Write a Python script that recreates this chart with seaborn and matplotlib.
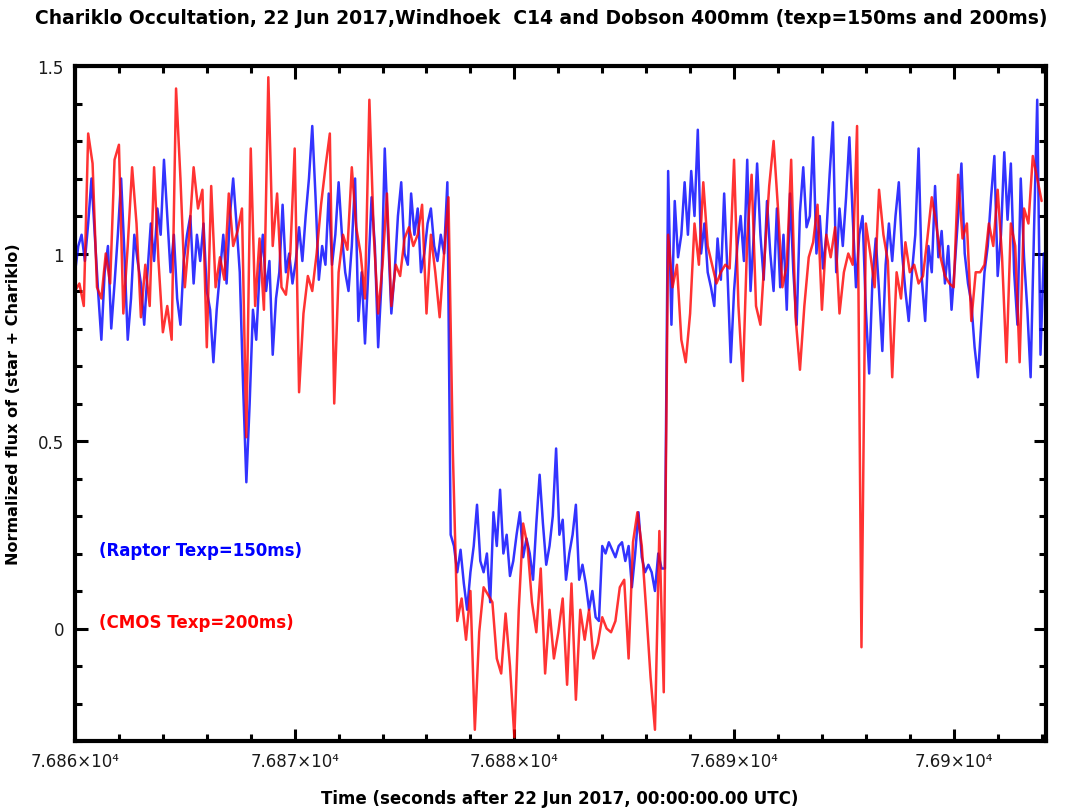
import numpy as np
import pandas as pd
import matplotlib
matplotlib.use("Agg")
import matplotlib.pyplot as plt
import seaborn as sns
from matplotlib.ticker import MultipleLocator

# ---------------- data ----------------
T0 = 76860.0
DT_RAPTOR = 0.15
DT_CMOS = 0.20

raptor_before = [
    0.95, 1.02, 1.05, 0.98, 1.08, 1.20, 1.05, 0.90, 0.77, 0.95,
    1.02, 0.80, 0.92, 1.05, 1.20, 1.00, 0.77, 0.88, 1.05, 0.98,
    0.92, 0.81, 0.95, 1.08, 0.98, 1.12, 1.05, 1.25, 1.10, 0.95,
    1.05, 0.88, 0.81, 0.98, 1.05, 1.10, 0.92, 1.05, 0.98, 1.08,
    0.90, 0.85, 0.71, 0.85, 0.95, 1.05, 0.92, 1.10, 1.20, 1.08,
    0.95, 0.65, 0.39, 0.60, 0.85, 0.77, 0.95, 1.05, 0.90, 0.98,
    0.73, 0.88, 0.95, 1.13, 0.95, 1.00, 0.92, 0.98, 1.07, 0.98,
    1.10, 1.20, 1.34, 1.15, 0.93, 1.02, 0.97, 1.16, 0.97, 1.05,
    1.19, 1.05, 0.95, 0.90, 1.02, 1.20, 0.82, 0.95, 0.76, 0.95,
    1.15, 1.02, 0.75, 0.92, 1.28, 1.05, 0.84, 0.95, 1.10, 1.19,
    1.00, 0.97, 1.16, 1.05, 1.12, 0.95, 1.00, 1.08, 1.12, 1.02,
    0.98, 1.05, 1.00, 1.19,
]
raptor_during = [
    0.25, 0.22, 0.15, 0.21, 0.12, 0.05, 0.15, 0.22, 0.33, 0.18,
    0.15, 0.20, 0.07, 0.31, 0.22, 0.37, 0.20, 0.25, 0.14, 0.18,
    0.25, 0.31, 0.19, 0.24, 0.20, 0.13, 0.28, 0.41, 0.28, 0.17,
    0.22, 0.30, 0.48, 0.25, 0.29, 0.13, 0.20, 0.25, 0.33, 0.13,
    0.17, 0.12, 0.05, 0.10, 0.03, 0.02, 0.22, 0.20, 0.23, 0.21,
    0.19, 0.22, 0.23, 0.18, 0.22, 0.11, 0.20, 0.31, 0.19, 0.15,
    0.17, 0.15, 0.10, 0.20, 0.16, 0.16,
]
raptor_after = [
    1.22, 0.81, 1.14, 0.99, 1.05, 1.19, 1.05, 1.22, 1.10, 1.33,
    1.00, 1.08, 0.95, 0.91, 0.86, 1.04, 0.93, 1.16, 0.95, 0.71,
    0.90, 1.02, 1.10, 0.98, 1.25, 0.90, 1.05, 1.24, 1.05, 0.93,
    1.14, 1.00, 0.90, 1.12, 0.91, 1.05, 0.85, 1.16, 0.95, 0.81,
    1.11, 1.23, 1.07, 1.10, 1.31, 1.00, 1.10, 0.96,
    1.05, 1.21, 1.35, 0.95, 1.12, 1.02, 1.15, 1.31, 1.10, 0.91,
    1.05, 1.10, 0.85, 0.68, 0.93, 1.04, 0.90, 0.74, 0.97, 1.08,
    0.98, 1.10, 1.19, 1.00, 0.90, 0.82, 0.95, 1.05, 1.28, 0.93,
    0.82, 1.02, 0.95, 1.18, 0.99, 1.06, 0.92, 1.02, 0.85, 0.97,
    1.10, 1.24, 1.00, 0.92, 0.87, 0.75, 0.67, 0.81, 0.95, 1.02,
    1.15, 1.26, 0.94, 1.05, 1.27, 1.09, 1.24, 0.95, 0.81, 1.20,
    0.99, 0.85, 0.67, 1.05, 1.41, 0.73, 1.00,
]

cmos_before = [
    0.90, 0.92, 0.86, 1.32, 1.24, 0.91, 0.88, 1.00, 0.92, 1.25,
    1.29, 0.84, 1.02, 1.23, 1.08, 0.83, 0.97, 0.86, 1.23, 0.98,
    0.79, 0.86, 0.77, 1.44, 1.20, 0.91, 1.05, 1.23, 1.12, 1.17,
    0.75, 1.18, 0.91, 0.99, 0.93, 1.16, 1.02, 1.06, 1.12, 0.51,
    1.28, 0.86, 1.04, 0.85, 1.47, 1.02, 1.16, 0.91, 0.89, 1.00,
    1.28, 0.63, 0.84, 0.94, 0.90, 1.00, 1.13, 1.23, 1.32, 0.60,
    0.95, 1.05, 1.01, 1.23, 1.07, 1.00, 0.88, 1.41, 1.05, 0.84,
    0.97, 1.16, 0.86, 0.97, 0.94, 1.04, 1.07, 1.02, 1.05, 1.13,
    0.84, 1.05, 0.95, 0.83, 1.00, 1.15,
]
cmos_during = [
    0.47, 0.02, 0.08, -0.03, 0.10, -0.27, -0.01, 0.11, 0.09, 0.07,
    -0.08, -0.12, 0.04, -0.10, -0.29, 0.05, 0.28, 0.22, 0.07, -0.01,
    0.16, -0.12, 0.05, -0.08, -0.01, 0.08, -0.15, 0.12, -0.19, 0.05,
    -0.03, 0.05, -0.08, -0.04, 0.03, 0.00, -0.01, 0.02, 0.11, 0.13,
    -0.08, 0.23, 0.31, 0.22, 0.05, -0.13, -0.27, 0.26, -0.17,
]
cmos_after = [
    1.05, 0.91, 0.97, 0.77, 0.71, 0.84, 1.08, 0.97, 1.19, 1.02,
    0.97, 0.92, 0.95, 0.97, 0.96, 1.25, 0.86, 0.66, 1.04, 1.21,
    0.86, 0.81, 1.00, 1.18, 1.30, 1.12, 0.91, 0.97, 1.25, 0.83,
    0.69, 0.86, 0.99, 1.03, 1.13, 0.85, 1.05, 0.99, 1.07, 0.84,
    0.95, 1.00, 0.97, 1.34, -0.05, 1.08, 1.00, 0.91, 1.17, 1.05,
    0.98, 0.67, 0.95, 0.88, 1.03, 0.95, 0.97, 0.92, 0.94, 1.04,
    1.15, 1.08, 0.99, 0.94, 0.92, 0.91, 1.21, 1.04, 1.08, 0.82,
    0.95, 0.95, 0.97, 1.08, 1.02, 1.17, 0.99, 0.71, 1.08, 1.02,
    0.71, 1.12, 1.08, 1.26, 1.20, 1.14,
]

x_major = [76860, 76870, 76880, 76890, 76900]
x_labels = ["7.686×10⁴", "7.687×10⁴", "7.688×10⁴", "7.689×10⁴", "7.69×10⁴"]
y_major = [0, 0.5, 1, 1.5]
y_labels = ["0", "0.5", "1", "1.5"]

title = "Chariklo Occultation, 22 Jun 2017,Windhoek  C14 and Dobson 400mm (texp=150ms and 200ms)"
xlabel = "Time (seconds after 22 Jun 2017, 00:00:00.00 UTC)"
ylabel = "Normalized flux of (star + Chariklo)"
label_raptor = "(Raptor Texp=150ms)"
label_cmos = "(CMOS Texp=200ms)"

# ---------------- frames ----------------
raptor = raptor_before + raptor_during + raptor_after
cmos = cmos_before + cmos_during + cmos_after
df_raptor = pd.DataFrame({"time": T0 + np.arange(len(raptor)) * DT_RAPTOR, "flux": raptor})
df_cmos = pd.DataFrame({"time": T0 + np.arange(len(cmos)) * DT_CMOS, "flux": cmos})

# ---------------- plot ----------------
sns.set_style("ticks")
plt.rcParams["font.family"] = ["DejaVu Sans"]
plt.rcParams["text.color"] = "black"

W, H = 1066, 812
fig = plt.figure(figsize=(W / 100, H / 100), dpi=100)
ax = fig.add_axes([75 / W, 1 - 742 / H, (1046 - 75) / W, (742 - 67) / H])

sns.lineplot(data=df_raptor, x="time", y="flux", ax=ax, color="#0000ff",
             lw=1.8, alpha=0.8, estimator=None, sort=False)
sns.lineplot(data=df_cmos, x="time", y="flux", ax=ax, color="#ff0000",
             lw=1.8, alpha=0.8, estimator=None, sort=False)

ax.set_xlim(76860, 76904.2)
ax.set_ylim(-0.3, 1.5)
ax.set_xticks(x_major)
ax.set_xticklabels(x_labels)
ax.set_yticks(y_major)
ax.set_yticklabels(y_labels)
ax.xaxis.set_minor_locator(MultipleLocator(2))
ax.yaxis.set_minor_locator(MultipleLocator(0.1))
ax.tick_params(which="both", direction="in", top=True, right=True,
               width=2.2, color="black", labelsize=12, labelcolor="#1a1a1a")
ax.tick_params(which="major", length=9, pad=8)
ax.tick_params(which="minor", length=5)
for s in ax.spines.values():
    s.set_linewidth(3)
    s.set_color("black")

ax.set_xlabel("")
ax.set_ylabel(ylabel, fontsize=11.5, fontweight="bold", labelpad=12, color="black")
fig.text(560 / W, 1 - 799 / H, xlabel, ha="center", va="center",
         fontsize=12, fontweight="bold", color="black")
fig.text(541 / W, 1 - 18 / H, title, ha="center", va="center",
         fontsize=13.5, fontweight="bold", color="black")

ax.text(76861.1, 0.21, label_raptor, color="#0000ff", fontsize=12,
        fontweight="bold", va="center", ha="left")
ax.text(76861.1, 0.016, label_cmos, color="#ff0000", fontsize=12,
        fontweight="bold", va="center", ha="left")

fig.savefig("out.png", dpi=100)
